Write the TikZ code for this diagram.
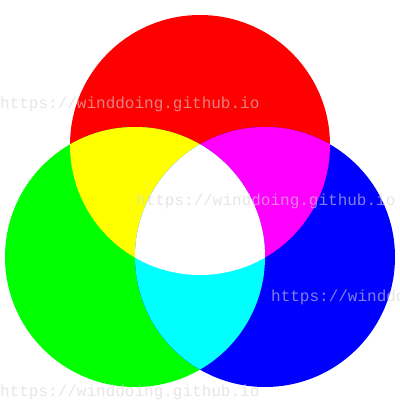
\documentclass[tikz,border=0pt]{standalone}
\usepackage{fontspec}
\newfontfamily\markfont{Liberation Mono}
\usepackage{xcolor}
\definecolor{cRed}{HTML}{FF0000}
\definecolor{cGreen}{HTML}{00FF00}
\definecolor{cBlue}{HTML}{0000FF}
\definecolor{cYellow}{HTML}{FFFF00}
\definecolor{cMagenta}{HTML}{FF00FF}
\definecolor{cCyan}{HTML}{00FFFF}
\definecolor{cMark}{HTML}{D6D6D6}
\usepackage{tikz}
\tikzset{
  node-mark/.style={anchor=base west,inner sep=0pt,text=cMark,
    text opacity=0.6,font=\markfont\fontsize{16}{16}\selectfont},
}
% the three light circles (centres and radius in px of the 400x400 image)
\newcommand{\circR}{(200,255) circle[radius=130]}
\newcommand{\circG}{(135,143) circle[radius=130]}
\newcommand{\circB}{(265,143) circle[radius=130]}

\begin{document}
\begin{tikzpicture}[x=1pt,y=1pt]
  \useasboundingbox[fill=white] (0,0) rectangle (400,400);
  \fill[cRed]   \circR;
  \fill[cGreen] \circG;
  \fill[cBlue]  \circB;
  % two-colour overlaps
  \begin{scope}
    \clip \circR;
    \fill[cYellow]  \circG;
    \fill[cMagenta] \circB;
  \end{scope}
  \begin{scope}
    \clip \circG;
    \fill[cCyan] \circB;
    \clip \circB;
    \fill[white] \circR;
  \end{scope}
  % watermarks
  \node[node-mark] (mark1) at (0,291)   {https://winddoing.github.io};
  \node[node-mark] (mark2) at (136,194) {https://winddoing.github.io};
  \node[node-mark] (mark3) at (271,99)  {https://winddoing.github.io};
  \node[node-mark] (mark4) at (0,4)     {https://winddoing.github.io};
\end{tikzpicture}
\end{document}
